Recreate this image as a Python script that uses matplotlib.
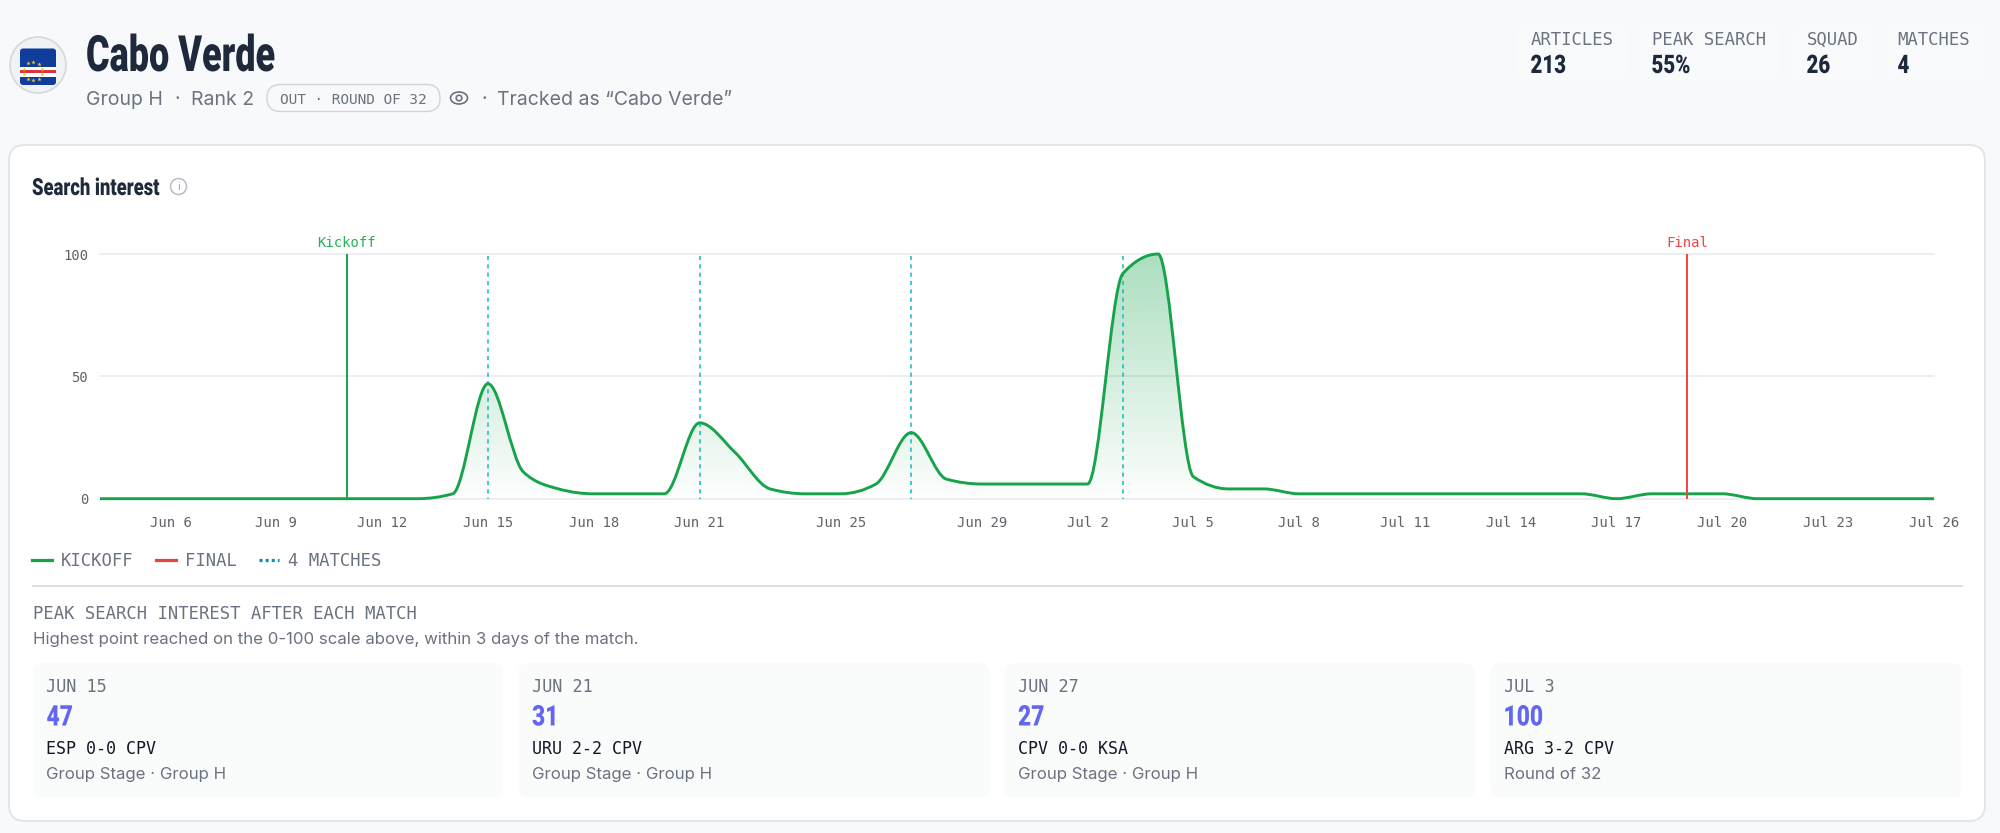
import matplotlib
matplotlib.use('Agg')
import numpy as np
import pandas as pd
import matplotlib.pyplot as plt
import matplotlib.dates as mdates
from matplotlib.lines import Line2D
from matplotlib.patches import Circle, Ellipse, FancyBboxPatch, PathPatch, Rectangle
from matplotlib.patheffects import AbstractPathEffect
from matplotlib.path import Path
from matplotlib.transforms import Affine2D

# daily search interest, Jun 4 to Jul 26
dates = pd.date_range('2026-06-04', '2026-07-26')
interest = [0, 0, 0, 0, 0, 0, 0, 0, 0, 0, 2, 47, 11, 4, 2, 2, 2, 31, 19, 4, 2, 2, 6, 27, 8, 6, 6, 6, 6,
            92, 100, 9, 4, 4, 2, 2, 2, 2, 2, 2, 2, 2, 2, 0, 2, 2, 2, 0, 0, 0, 0, 0, 0]

tick_dates = ['2026-06-06', '2026-06-09', '2026-06-12', '2026-06-15', '2026-06-18', '2026-06-21',
              '2026-06-25', '2026-06-29', '2026-07-02', '2026-07-05', '2026-07-08', '2026-07-11',
              '2026-07-14', '2026-07-17', '2026-07-20', '2026-07-23', '2026-07-26']
tick_labels = ['Jun 6', 'Jun 9', 'Jun 12', 'Jun 15', 'Jun 18', 'Jun 21', 'Jun 25', 'Jun 29', 'Jul 2',
               'Jul 5', 'Jul 8', 'Jul 11', 'Jul 14', 'Jul 17', 'Jul 20', 'Jul 23', 'Jul 26']
kickoff_date = '2026-06-11'
final_date = '2026-07-19'
match_dates = ['2026-06-15', '2026-06-21', '2026-06-27', '2026-07-03']

stat_labels = ['ARTICLES', 'PEAK SEARCH', 'SQUAD', 'MATCHES']
stat_values = ['213', '55%', '26', '4']

card_dates = ['JUN 15', 'JUN 21', 'JUN 27', 'JUL 3']
card_peaks = ['47', '31', '27', '100']
card_scores = ['ESP 0-0 CPV', 'URU 2-2 CPV', 'CPV 0-0 KSA', 'ARG 3-2 CPV']
card_stages = ['Group Stage · Group H', 'Group Stage · Group H', 'Group Stage · Group H', 'Round of 32']

HEAD = ['Roboto', 'DejaVu Sans']
MONO = ['DejaVu Sans Mono']
BODY = ['Inter', 'DejaVu Sans']
DARK = '#1e293b'
GRAY = '#6b7280'
GREEN = '#16a34a'
RED = '#ef4444'
TEAL = '#14b8c6'

plt.rcParams['lines.scale_dashes'] = False
W, H = 2000, 833


class Squeeze(AbstractPathEffect):
    # no condensed face is installed, so narrow the glyphs when they are drawn
    def __init__(self, sx):
        super().__init__()
        self.sx = sx

    def draw_path(self, renderer, gc, tpath, affine, rgbFace=None):
        renderer.draw_path(gc, tpath, Affine2D().scale(self.sx, 1) + affine, rgbFace)


def monotone_path(x, y):
    # same curve the web chart draws: cubic segments with monotone tangents
    x = np.asarray(x, dtype=float)
    y = np.asarray(y, dtype=float)
    h = np.diff(x)
    s = np.diff(y) / h
    t = np.zeros(len(x))
    for i in range(1, len(x) - 1):
        p = (s[i - 1] * h[i] + s[i] * h[i - 1]) / (h[i - 1] + h[i])
        t[i] = (np.sign(s[i - 1]) + np.sign(s[i])) * min(abs(s[i - 1]), abs(s[i]), 0.5 * abs(p))
    t[0] = (3 * s[0] - t[1]) / 2
    t[-1] = (3 * s[-1] - t[-2]) / 2
    verts = [(x[0], y[0])]
    codes = [Path.MOVETO]
    for i in range(len(x) - 1):
        d = h[i] / 3
        verts += [(x[i] + d, y[i] + d * t[i]), (x[i + 1] - d, y[i + 1] - d * t[i + 1]), (x[i + 1], y[i + 1])]
        codes += [Path.CURVE4] * 3
    return verts, codes


def box(ax, x0, y0, x1, y1, r, fc, ec='none', lw=0.0, zorder=1):
    ax.add_patch(FancyBboxPatch((x0, y0), x1 - x0, y1 - y0, boxstyle=f'round,pad=0,rounding_size={r}',
                                fc=fc, ec=ec, lw=lw, zorder=zorder))


fig = plt.figure(figsize=(W / 100, H / 100), dpi=100, facecolor='#f8f9fb')

# page layer in pixel coordinates
bg = fig.add_axes([0, 0, 1, 1])
bg.set_xlim(0, W)
bg.set_ylim(H, 0)
bg.axis('off')

# flag badge
bg.add_patch(Circle((38, 65), 28, fc='#f1f2f5', ec='#d5d8de', lw=1.2))
box(bg, 20, 48.5, 56, 85, 3, '#0f3d9c', zorder=2)
bg.add_patch(Rectangle((20, 66.5), 36, 10, fc='white', ec='none', zorder=3))
bg.add_patch(Rectangle((20, 69.5), 36, 3.4, fc='#d8353c', ec='none', zorder=4))
star_x = [28.3, 33.3, 38.7, 42, 42, 38.7, 33.3, 28.3, 24, 24]
star_y = [63.3, 62.3, 63.7, 68.7, 74.3, 78.7, 80, 78.7, 74.3, 68.7]
bg.scatter(star_x, star_y, s=11, marker='*', c='#f2c230', linewidths=0, zorder=5)

# header
bg.text(86, 71, 'Cabo Verde', fontsize=36, fontweight='black', family=HEAD, color=DARK, va='baseline',
        path_effects=[Squeeze(0.72)])
sub = dict(fontsize=14.0, family=BODY, color=GRAY, va='center_baseline')
bg.text(86, 98, 'Group H', **sub)
bg.text(177, 98, '·', ha='center', **sub)
bg.text(191, 98, 'Rank 2', **sub)
box(bg, 267, 84.5, 440, 111.5, 13.5, '#f8f9fb', '#cfd3da', 1.0)
bg.text(353.5, 98, 'OUT · ROUND OF 32', fontsize=10.4, family=MONO, color=GRAY, ha='center', va='center_baseline')
bg.add_patch(Ellipse((459, 98), 17, 12, fc='none', ec=GRAY, lw=1.2))
bg.add_patch(Circle((459, 98), 2.8, fc='none', ec=GRAY, lw=1.2))
bg.text(484, 98, '·', ha='center', **sub)
bg.text(497, 98, 'Tracked as “Cabo Verde”', **sub)

# stat boxes
stat_x0 = [1516, 1637, 1792, 1883]
stat_x1 = [1628, 1780, 1873, 1985]
for x0, x1, label, value in zip(stat_x0, stat_x1, stat_labels, stat_values):
    box(bg, x0, 23, x1, 83, 10, '#f9fafc')
    bg.text(x0 + 14.5, 37.7, label, fontsize=12.4, family=MONO, color=GRAY, va='center_baseline')
    bg.text(x0 + 14.5, 73, value, fontsize=18.4, fontweight='black', family=HEAD, color=DARK, va='baseline',
            path_effects=[Squeeze(0.8)])

# main card
box(bg, 9, 145, 1985, 821, 16, 'white', '#e2e5ea', 1.4)
bg.text(32, 195, 'Search interest', fontsize=17, fontweight='black', family=HEAD, color=DARK, va='baseline',
        path_effects=[Squeeze(0.78)])
bg.add_patch(Circle((178.5, 186.5), 8, fc='none', ec='#b8bcc4', lw=1.1, zorder=3))
bg.text(178.5, 186.5, 'i', fontsize=8, family=BODY, color='#a5a9b2', ha='center', va='center', zorder=3)

# chart
ax = fig.add_axes([100 / W, 1 - 498.7 / H, (1934 - 100) / W, (498.7 - 254) / H])
ax.patch.set_alpha(0)
x = mdates.date2num(dates)
verts, codes = monotone_path(x, interest)

area = PathPatch(Path(verts + [(x[-1], 0), (x[0], 0), (x[0], 0)], codes + [Path.LINETO, Path.LINETO, Path.CLOSEPOLY]),
                 fc='none', ec='none', transform=ax.transData)
ax.add_patch(area)
gradient = np.zeros((256, 1, 4))
gradient[..., :3] = matplotlib.colors.to_rgb(GREEN)
gradient[:, 0, 3] = np.linspace(0.36, 0.01, 256)
im = ax.imshow(gradient, extent=(x[0], x[-1], 0, 100), aspect='auto', origin='upper', zorder=2)
im.set_clip_path(area)

for d in match_dates:
    ax.axvline(mdates.date2num(pd.Timestamp(d)), color=TEAL, lw=1.1, ls=(2, (3, 3)), zorder=3)
ax.axvline(mdates.date2num(pd.Timestamp(kickoff_date)), color=GREEN, lw=1.4, zorder=3)
ax.add_patch(PathPatch(Path(verts, codes), fc='none', ec=GREEN, lw=2.1, zorder=4, clip_on=False))
ax.axvline(mdates.date2num(pd.Timestamp(final_date)), color=RED, lw=1.4, zorder=5)

ax.text(mdates.date2num(pd.Timestamp(kickoff_date)), 105.2, 'Kickoff', color='#22b455', fontsize=10, family=MONO,
        ha='center', va='center_baseline')
ax.text(mdates.date2num(pd.Timestamp(final_date)), 105.2, 'Final', color=RED, fontsize=10, family=MONO,
        ha='center', va='center_baseline')

ax.set_xlim(x[0], x[-1])
ax.set_ylim(0, 100)
ax.set_xticks(mdates.date2num(pd.to_datetime(tick_dates)))
ax.set_xticklabels(tick_labels)
ax.set_yticks([0, 50, 100])
ax.tick_params(length=0, labelcolor='#5f6368', labelsize=10)
ax.tick_params(axis='x', pad=12.3)
ax.tick_params(axis='y', pad=8.5)
for lab in ax.get_xticklabels() + ax.get_yticklabels():
    lab.set_family(MONO)
ax.grid(axis='y', color='#e8eaee', lw=1.1, zorder=0)
ax.set_axisbelow(True)
for sp in ax.spines.values():
    sp.set_visible(False)
for gl in ax.get_ygridlines():
    gl.set_clip_on(False)

handles = [Line2D([], [], color=GREEN, lw=2.3),
           Line2D([], [], color='#e4483a', lw=2.3),
           Line2D([], [], color='#0891b2', lw=2.3, ls=(0, (2.2, 2.2)))]
fig.legend(handles, ['KICKOFF', 'FINAL', '4 MATCHES'], loc='center left', bbox_to_anchor=(32 / W, 1 - 561 / H),
           ncol=3, frameon=False, borderpad=0, borderaxespad=0, handlelength=1.18, handletextpad=0.5,
           columnspacing=1.3, labelcolor=GRAY, prop={'family': MONO, 'size': 12.4})

# peak section under the chart
bg.plot([33, 1962], [586, 586], color='#dde0e5', lw=1.5)
bg.text(33, 611.7, 'PEAK SEARCH INTEREST AFTER EACH MATCH', fontsize=12.4, family=MONO, color=GRAY, va='center_baseline')
bg.text(33, 637.7, 'Highest point reached on the 0-100 scale above, within 3 days of the match.', fontsize=12.1,
        family=BODY, color=GRAY, va='center_baseline')

card_x0 = [33, 518.5, 1004.5, 1490]
card_x1 = [503, 990, 1475, 1962]
for i in range(4):
    box(bg, card_x0[i], 663, card_x1[i], 798, 10, '#fafbfb')
    tx = card_x0[i] + 13.5
    bg.text(tx, 685, card_dates[i], fontsize=12.2, family=MONO, color=GRAY, va='center_baseline')
    bg.text(tx, 725.5, card_peaks[i], fontsize=20.5, fontweight='black', family=HEAD, color='#6366f1', va='baseline',
            path_effects=[Squeeze(0.8)])
    bg.text(tx, 747, card_scores[i], fontsize=12, family=MONO, color='#111827', va='center_baseline')
    bg.text(tx, 773, card_stages[i], fontsize=12.1, family=BODY, color=GRAY, va='center_baseline')

fig.savefig('out.png', dpi=100, facecolor=fig.get_facecolor())
